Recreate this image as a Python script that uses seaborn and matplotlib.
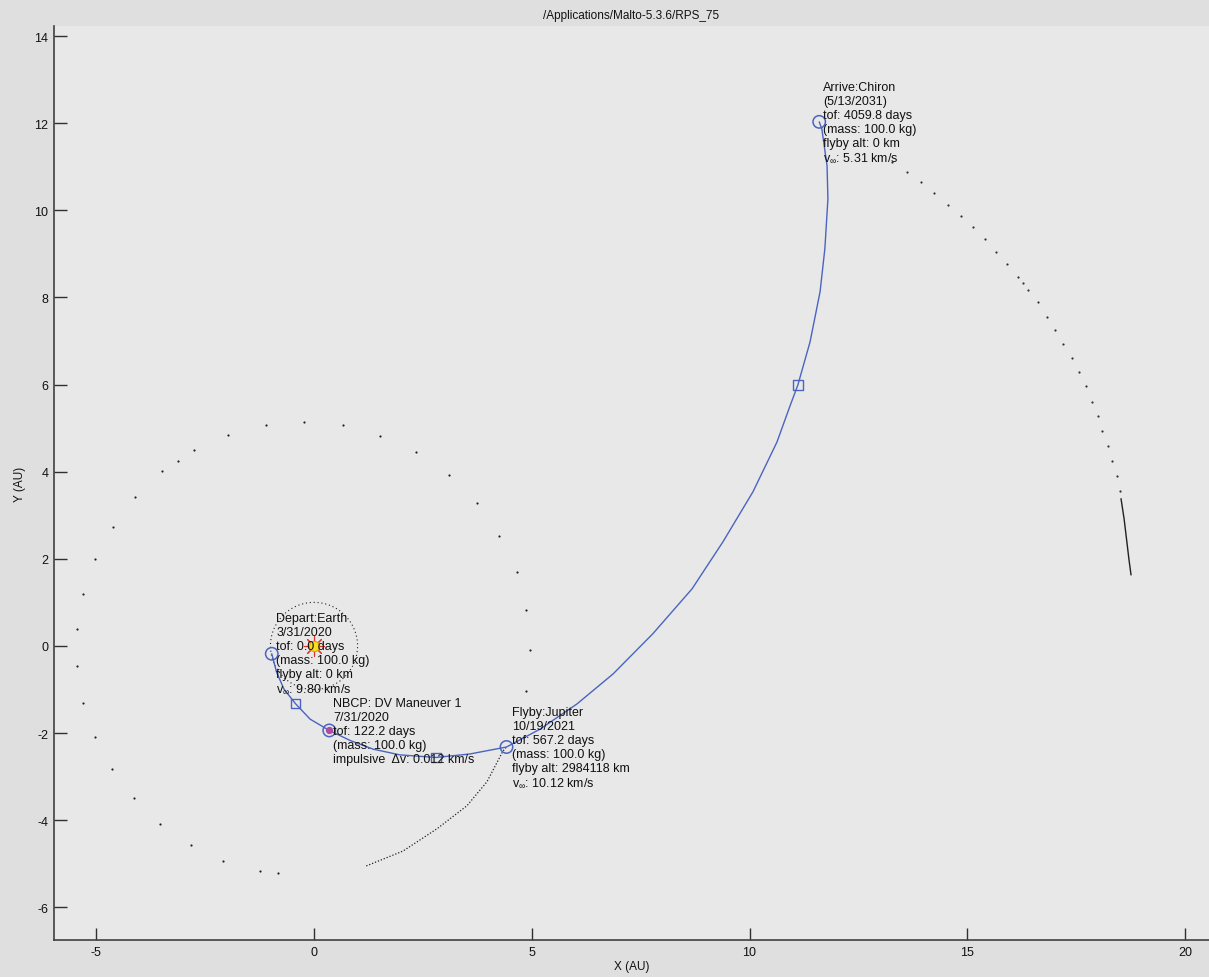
import matplotlib
matplotlib.use("Agg")
import matplotlib.pyplot as plt
from matplotlib.patches import Circle
import seaborn as sns
import pandas as pd

# ---------------- data ----------------
title = "/Applications/Malto-5.3.6/RPS_75"

# spacecraft trajectory (AU)
traj_x = [-0.97, -0.86, -0.69, -0.43, -0.09, 0.35, 0.83, 1.36, 1.97, 2.80, 3.58, 4.42,
          5.19, 6.04, 6.87, 7.78, 8.68, 9.39, 10.08, 10.63, 10.93, 11.11, 11.39, 11.62, 11.73,
          11.80, 11.78, 11.66, 11.60]
traj_y = [-0.18, -0.60, -0.99, -1.32, -1.68, -1.94, -2.17, -2.37, -2.50, -2.56, -2.48, -2.32,
          -1.91, -1.33, -0.64, 0.28, 1.31, 2.39, 3.54, 4.68, 5.51, 5.99, 6.98, 8.13, 9.12,
          10.26, 11.02, 11.87, 12.03]

# events (circles) and coast squares
event_x = [-0.97, 0.35, 4.42, 11.60]
event_y = [-0.18, -1.94, -2.32, 12.03]
square_x = [-0.43, 2.80, 11.11]
square_y = [-1.32, -2.56, 5.99]
maneuver_x = [0.35]
maneuver_y = [-1.94]

# Earth orbit radius
earth_orbit_r = 1.0

# Jupiter: position before flyby (dense) and after (sparse dots)
jup_dense_x = [1.20, 2.04, 2.82, 3.51, 3.97, 4.34, 4.42]
jup_dense_y = [-5.05, -4.71, -4.20, -3.67, -3.12, -2.41, -2.32]
jup_dot_x = [4.87, 4.96, 4.87, 4.66, 4.25, 3.74, 3.10, 2.34, 1.52, 0.67, -0.23, -1.10,
             -1.97, -2.76, -3.12, -3.49, -4.11, -4.62, -5.03, -5.30, -5.44, -5.44, -5.30,
             -5.03, -4.64, -4.13, -3.54, -2.82, -2.09, -1.24, -0.83]
jup_dot_y = [-1.03, -0.09, 0.83, 1.70, 2.53, 3.28, 3.93, 4.45, 4.82, 5.07, 5.14, 5.07,
             4.84, 4.50, 4.25, 4.02, 3.42, 2.73, 2.00, 1.19, 0.39, -0.46, -1.31,
             -2.09, -2.82, -3.49, -4.09, -4.57, -4.94, -5.17, -5.21]

# Chiron: before Jupiter flyby (dense) and afterwards (sparse dots)
chi_dense_x = [18.76, 18.71, 18.67, 18.60, 18.53]
chi_dense_y = [1.63, 2.00, 2.34, 2.92, 3.38]
chi_dot_x = [18.51, 18.44, 18.32, 18.23, 18.09, 18.00, 17.86, 17.73, 17.57, 17.41, 17.20,
             17.01, 16.83, 16.62, 16.39, 16.28, 16.17, 15.91, 15.66, 15.41, 15.13, 14.86,
             14.56, 14.24, 13.94, 13.62, 13.27]
chi_dot_y = [3.56, 3.90, 4.25, 4.59, 4.94, 5.28, 5.60, 5.97, 6.29, 6.61, 6.93,
             7.26, 7.55, 7.90, 8.17, 8.34, 8.47, 8.77, 9.05, 9.35, 9.62, 9.87,
             10.13, 10.40, 10.65, 10.88, 11.11]

sun_x, sun_y = [0.0], [0.0]

# annotation texts
labels = [
    "Depart:Earth\n3/31/2020\ntof: 0.0 days\n(mass: 100.0 kg)\nflyby alt: 0 km\nv$_{\\infty}$: 9.80 km/s",
    "NBCP: DV Maneuver 1\n7/31/2020\ntof: 122.2 days\n(mass: 100.0 kg)\nimpulsive  \u0394v: 0.012 km/s",
    "Flyby:Jupiter\n10/19/2021\ntof: 567.2 days\n(mass: 100.0 kg)\nflyby alt: 2984118 km\nv$_{\\infty}$: 10.12 km/s",
    "Arrive:Chiron\n(5/13/2031)\ntof: 4059.8 days\n(mass: 100.0 kg)\nflyby alt: 0 km\nv$_{\\infty}$: 5.31 km/s",
]
label_x = [-0.87, 0.44, 4.55, 11.69]
label_y = [0.78, -1.17, -1.38, 12.97]

x_ticks = [-5, 0, 5, 10, 15, 20]
y_ticks = [-6, -4, -2, 0, 2, 4, 6, 8, 10, 12, 14]

# ---------------- plotting ----------------
sns.set_theme(style="white")
plt.rcParams['font.family'] = ['Liberation Sans', 'DejaVu Sans']
plt.rcParams['mathtext.fontset'] = 'custom'
plt.rcParams['mathtext.rm'] = 'Liberation Sans'
plt.rcParams['mathtext.it'] = 'Liberation Sans'

fig = plt.figure(figsize=(12.09, 9.78), dpi=100, facecolor="#dfdfdf")
ax = fig.add_axes([54 / 1209, 1 - 941 / 978, 1 - 54 / 1209, (941 - 27) / 978])
ax.set_facecolor("#e8e8e8")

blue = "#4a64c0"

# Earth orbit
ax.add_patch(Circle((0, 0), earth_orbit_r, fill=False, edgecolor="#202020",
                    linestyle=(0, (1, 2.5)), linewidth=0.8, zorder=2))

# Jupiter
sns.lineplot(x=jup_dense_x, y=jup_dense_y, sort=False, estimator=None, ax=ax,
             color="#202020", linewidth=0.9, linestyle=(0, (1, 1.5)), zorder=2)
sns.scatterplot(x=jup_dot_x, y=jup_dot_y, ax=ax, color="#202020", s=2.5,
                linewidth=0, zorder=2)

# Chiron
sns.lineplot(x=chi_dense_x, y=chi_dense_y, sort=False, estimator=None, ax=ax,
             color="#202020", linewidth=1.0, zorder=2)
sns.scatterplot(x=chi_dot_x, y=chi_dot_y, ax=ax, color="#303030", s=2.5,
                linewidth=0, zorder=2)

# trajectory
traj = pd.DataFrame({"x": traj_x, "y": traj_y})
sns.lineplot(data=traj, x="x", y="y", sort=False, estimator=None, ax=ax,
             color=blue, linewidth=1.0, zorder=3)

# markers
sns.scatterplot(x=event_x, y=event_y, ax=ax, marker="o", s=80,
                facecolor="none", edgecolor=blue, linewidth=1.1, zorder=4)
sns.scatterplot(x=maneuver_x, y=maneuver_y, ax=ax, marker="o", s=28,
                color="#b04aa8", linewidth=0, zorder=4)
sns.scatterplot(x=square_x, y=square_y, ax=ax, marker="s", s=45,
                facecolor="none", edgecolor=blue, linewidth=1.0, zorder=4)

# Sun
sns.scatterplot(x=sun_x, y=sun_y, ax=ax, marker=(8, 2, 0), s=200,
                color="#e03030", linewidth=0.8, zorder=4)
sns.scatterplot(x=sun_x, y=sun_y, ax=ax, marker="o", s=55,
                color="#f5e020", edgecolor="#e0a000", linewidth=0.8, zorder=5)

# labels
for t, lx, ly in zip(labels, label_x, label_y):
    ax.text(lx, ly, t, ha="left", va="top", fontsize=9, linespacing=1.22,
            color="#111111", zorder=6)

ax.set_xlim(-5.97, 20.55)
ax.set_ylim(-6.75, 14.23)
ax.set_xticks(x_ticks)
ax.set_yticks(y_ticks)
ax.set_xticklabels([str(v) for v in x_ticks])
ax.set_yticklabels([str(v) for v in y_ticks])
ax.tick_params(direction="in", length=9, width=1.0, color="#303030",
               labelsize=9, labelcolor="#111111", pad=4,
               bottom=True, left=True, top=False, right=False)
for s in ["top", "right"]:
    ax.spines[s].set_visible(False)
for s in ["left", "bottom"]:
    ax.spines[s].set_color("#404040")
    ax.spines[s].set_linewidth(1.2)

ax.set_xlabel("X (AU)", fontsize=8.5, labelpad=2, color="#111111")
ax.set_ylabel("Y (AU)", fontsize=8.5, labelpad=6, color="#111111")
ax.set_title(title, fontsize=8.5, pad=6, color="#111111")

fig.savefig("out.png", dpi=100, facecolor=fig.get_facecolor())
